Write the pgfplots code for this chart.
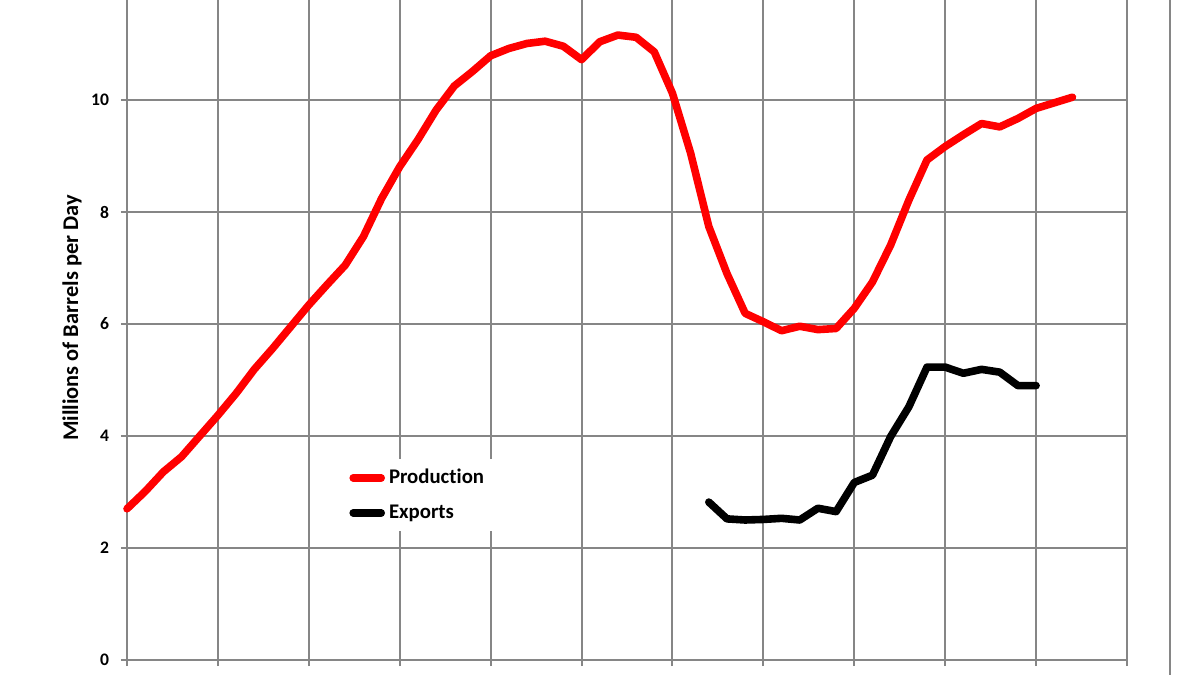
\documentclass[border=0pt]{standalone}
\usepackage{fontspec}
\setmainfont{Carlito}[Ligatures={NoCommon,NoRare}]
\usepackage{pgfplots}
\pgfplotsset{compat=1.18}
\definecolor{gridgray}{RGB}{134,134,134}
\begin{document}
\begin{tikzpicture}
\begin{axis}[
  name=ax,
  scale only axis,
  width=500pt, height=330pt,
  xmin=1960, xmax=2015,
  ymin=0, ymax=11.786,
  xtick={1960,1965,...,2015},
  xticklabels={},
  ytick={0,2,4,6,8,10},
  axis lines=left,
  axis line style={-, gridgray, line width=1pt},
  grid=major,
  major grid style={gridgray, line width=1pt},
  tick align=outside,
  major tick length=3pt,
  tick style={gridgray, line width=1pt},
  /pgf/number format/assume math mode=true,
  yticklabel style={font=\fontsize{8.8}{10}\selectfont\bfseries, xshift=-2.5pt},
  ylabel={Millions of Barrels per Day},
  ylabel style={at={(axis description cs:-0.055,0.518)}, anchor=center, font=\fontsize{11.2}{13}\selectfont\bfseries},
  legend style={at={(axis description cs:0.216,0.305)}, anchor=north west, draw=none, fill=white,
    font=\fontsize{10.4}{12}\selectfont\bfseries, row sep=5pt, inner xsep=3pt, inner ysep=3pt},
  legend cell align=left,
  legend image code/.code={\draw[#1, line cap=round] (2pt,0pt) -- (16pt,0pt);},
  clip=false,
]
\addplot[red, line width=3.8pt, line join=round, line cap=round] coordinates {
(1960,2.70) (1961,3.01) (1962,3.36) (1963,3.63) (1964,4.00) (1965,4.37)
(1966,4.76) (1967,5.19) (1968,5.56) (1969,5.95) (1970,6.34) (1971,6.70)
(1972,7.05) (1973,7.56) (1974,8.24) (1975,8.81) (1976,9.29) (1977,9.82)
(1978,10.25) (1979,10.51) (1980,10.79) (1981,10.92) (1982,11.01) (1983,11.05)
(1984,10.96) (1985,10.72) (1986,11.04) (1987,11.16) (1988,11.12) (1989,10.86)
(1990,10.12) (1991,9.05) (1992,7.74) (1993,6.90) (1994,6.19) (1995,6.04)
(1996,5.88) (1997,5.96) (1998,5.90) (1999,5.92) (2000,6.28) (2001,6.75)
(2002,7.41) (2003,8.21) (2004,8.93) (2005,9.17) (2006,9.38) (2007,9.58)
(2008,9.52) (2009,9.67) (2010,9.85) (2011,9.95) (2012,10.05)
};
\addlegendentry{Production}
\addplot[black, line width=3.8pt, line join=round, line cap=round] coordinates {
(1992,2.82) (1993,2.52) (1994,2.50) (1995,2.51) (1996,2.53) (1997,2.50)
(1998,2.71) (1999,2.65) (2000,3.17) (2001,3.30) (2002,3.99) (2003,4.52)
(2004,5.23) (2005,5.23) (2006,5.12) (2007,5.19) (2008,5.14) (2009,4.90) (2010,4.90)
};
\addlegendentry{Exports}
\end{axis}
\draw[gridgray, line width=1pt] ([shift={(521.5pt,-7.5pt)}]ax.south west) -- ++(0,337.5pt);
\pgfresetboundingbox
\path[use as bounding box] ([shift={(-63.5pt,-7.5pt)}]ax.south west) rectangle ([shift={(536.5pt,330pt)}]ax.south west);
\end{tikzpicture}
\end{document}
